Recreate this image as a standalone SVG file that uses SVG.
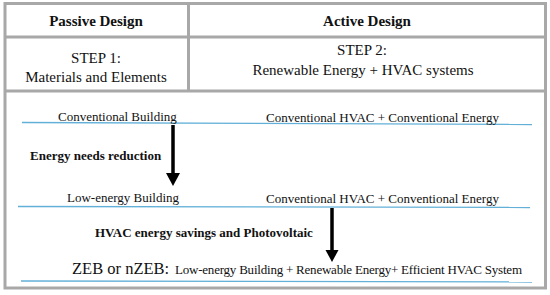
<svg xmlns="http://www.w3.org/2000/svg" width="550" height="295" viewBox="0 0 550 295">
<style>
.frame{fill:none;stroke:#a8a8a8;stroke-width:3}
text{font-family:'Liberation Serif','Times New Roman',Times,serif;fill:#111;font-size:13px}
.h{font-weight:bold;font-size:15px;text-anchor:middle}
.s{font-size:15px;text-anchor:middle}
.b{font-weight:bold}
.rule{stroke:#62b0d8;stroke-width:1.3;fill:none}
.shaft{stroke:#000;stroke-width:3.5;fill:none}
.head{fill:#000}
</style>
<rect width="550" height="295" fill="#fff"/>
<g id="frame">
<rect class="frame" x="5" y="3.5" width="540.5" height="284.5"/>
<line class="frame" x1="5" y1="37" x2="545.5" y2="37"/>
<line class="frame" x1="5" y1="91" x2="545.5" y2="91"/>
<line class="frame" x1="188.5" y1="3.5" x2="188.5" y2="91"/>
</g>
<g font-family="Liberation Serif, serif">
<g id="passive-header"><text class="h" x="96" y="26">Passive Design</text></g>
<g id="active-header"><text class="h" x="367" y="26">Active Design</text></g>
<g id="step1"><text class="s" x="96" y="63">STEP 1:</text><text class="s" x="96" y="82">Materials and Elements</text></g>
<g id="step2"><text class="s" x="362" y="55">STEP 2:</text><text class="s" x="363" y="75">Renewable Energy + HVAC systems</text></g>
<g id="row1">
<line class="rule" x1="22" y1="122.5" x2="532" y2="124.5"/>
<text x="58" y="121">Conventional Building</text>
<text x="266" y="122">Conventional HVAC + Conventional Energy</text>
</g>
<g id="row2">
<line class="rule" x1="18" y1="206.5" x2="530" y2="207.5"/>
<text x="67" y="202">Low-energy Building</text>
<text x="266" y="203">Conventional HVAC + Conventional Energy</text>
</g>
<g id="row3">
<line class="rule" x1="21" y1="281" x2="532" y2="282"/>
<text y="274"><tspan x="72" style="font-size:16.5px">ZEB or nZEB: </tspan><tspan x="175" textLength="347">Low-energy Building + Renewable Energy+ Efficient HVAC System</tspan></text>
</g>
<g id="label1"><text class="b" x="30" y="160">Energy needs reduction</text></g>
<g id="label2"><text class="b" x="95" y="237">HVAC energy savings and Photovoltaic</text></g>
</g>
<g id="connectors">
<line class="shaft" x1="173" y1="125" x2="173" y2="174"/>
<polygon class="head" points="166,173 180,173 173,186"/>
<line class="shaft" x1="332" y1="208" x2="332" y2="251"/>
<polygon class="head" points="325.5,250 338.5,250 332,262"/>
</g>
</svg>
